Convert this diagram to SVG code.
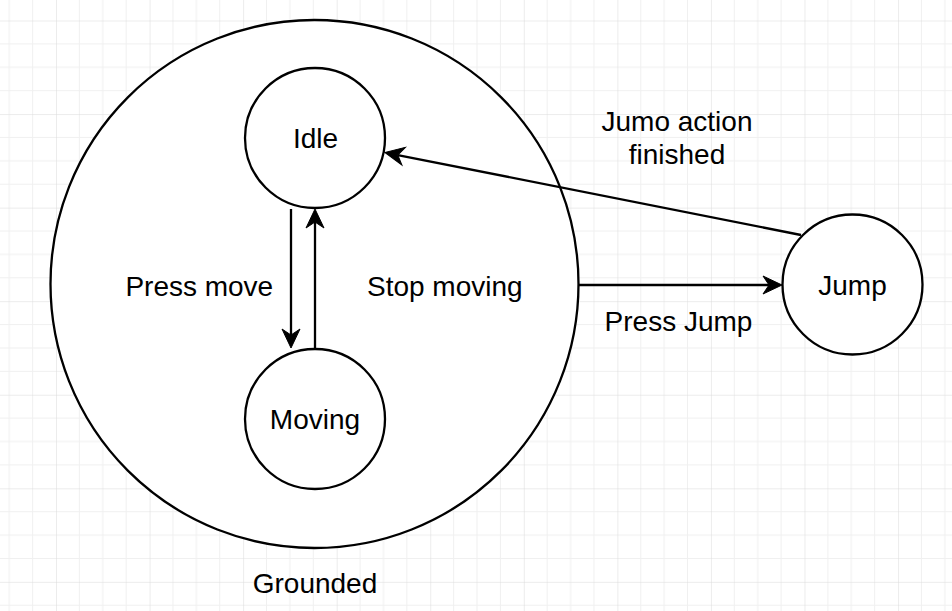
<svg xmlns="http://www.w3.org/2000/svg" width="952" height="611" viewBox="0 0 952 611">
  <style>
    .node { fill: #ffffff; stroke: #000000; stroke-width: 2.3; }
    .lbl { font-family: "Liberation Sans", Arial, sans-serif; font-size: 28px; fill: #000000; text-anchor: middle; }
    .edge { stroke: #000000; stroke-width: 2.3; fill: none; }
    .head { fill: #000000; stroke: #000000; stroke-width: 1; stroke-linejoin: miter; }
  </style>
  <defs>
    <pattern id="grid" patternUnits="userSpaceOnUse" x="56" y="20.5" width="93.56" height="93.56">
      <path d="M23.39,0V93.56M46.78,0V93.56M70.17,0V93.56M0,23.39H93.56M0,46.78H93.56M0,70.17H93.56" stroke="#f0f0f0" stroke-width="1" fill="none"/>
      <path d="M0,0V93.56M0,0H93.56" stroke="#dadada" stroke-width="1" fill="none"/>
    </pattern>
    <path id="ah" d="M0,0 L-19,-9 L-13,0 L-19,9 Z"/>
  </defs>
  <rect width="952" height="611" fill="#ffffff"/>
  <rect width="952" height="611" fill="url(#grid)"/>

  <g id="grounded">
    <circle class="node" cx="314.5" cy="284" r="264"/>
    <text class="lbl" x="315" y="593">Grounded</text>
  </g>

  <g id="connectors">
    <g id="edge-press-move">
      <line class="edge" x1="291" y1="209" x2="291" y2="335"/>
      <use href="#ah" class="head" transform="translate(291,348) rotate(90)"/>
      <text class="lbl" x="199.3" y="295.5">Press move</text>
    </g>
    <g id="edge-stop-moving">
      <line class="edge" x1="315" y1="349" x2="315" y2="222"/>
      <use href="#ah" class="head" transform="translate(315,209) rotate(-90)"/>
      <text class="lbl" x="444.8" y="295.5">Stop moving</text>
    </g>
    <g id="edge-press-jump">
      <line class="edge" x1="578" y1="285" x2="769" y2="285"/>
      <use href="#ah" class="head" transform="translate(782,285)"/>
      <text class="lbl" x="678.5" y="331">Press Jump</text>
    </g>
    <g id="edge-jump-finished">
      <line class="edge" x1="801" y1="235" x2="397.75" y2="155.03"/>
      <use href="#ah" class="head" transform="translate(385,152.5) rotate(191.2)"/>
      <text class="lbl" x="677" y="130.7">Jumo action</text>
      <text class="lbl" x="677" y="164.3">finished</text>
    </g>
  </g>

  <g id="idle">
    <circle class="node" cx="315" cy="138" r="70"/>
    <text class="lbl" x="315.5" y="147.5">Idle</text>
  </g>
  <g id="moving">
    <circle class="node" cx="315" cy="419" r="70"/>
    <text class="lbl" x="315" y="428.5">Moving</text>
  </g>
  <g id="jump">
    <circle class="node" cx="852.5" cy="284.5" r="70"/>
    <text class="lbl" x="852.5" y="295">Jump</text>
  </g>
</svg>
